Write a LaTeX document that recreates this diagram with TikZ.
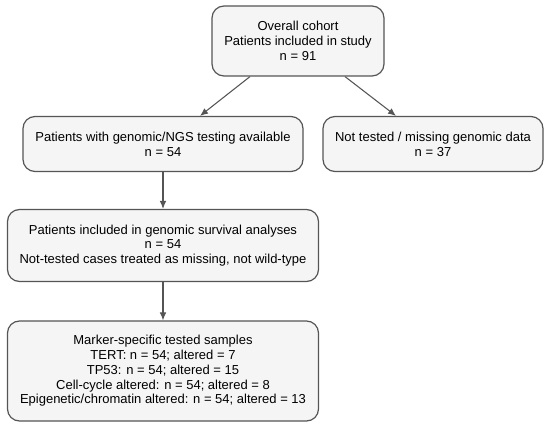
\documentclass[tikz,border=0pt]{standalone}
\usepackage{fontspec}
\setmainfont{Liberation Sans}
\usepackage{tikz}
\usetikzlibrary{arrows.meta}
\definecolor{boxfill}{HTML}{F5F5F5}
\definecolor{boxline}{HTML}{555555}

\begin{document}
\begin{tikzpicture}[x=0.75pt, y=-0.75pt,
		mybox/.style={draw=boxline, fill=boxfill, line width=0.9pt, rounded corners=9pt, align=center, inner sep=2pt, font=\fontsize{9.75}{11.1}\selectfont},
		arr/.style={-{Latex[length=6pt, width=5pt]}, draw=boxline, line width=0.8pt}
	]
	\useasboundingbox (0,0) rectangle (550,435);

	\node[mybox, minimum width=129pt, minimum height=52.5pt] (cohort) at (298,41) {Overall cohort\\ Patients included in study\\ n = 91};
	\node[mybox, minimum width=210pt, minimum height=41.25pt] (tested) at (163,144) {Patients with genomic/NGS testing available\\ n = 54};
	\node[mybox, minimum width=165pt, minimum height=41.25pt] (missing) at (433,144) {Not tested / missing genomic data\\ n = 37};
	\node[mybox, minimum width=233.25pt, minimum height=54pt] (survival) at (163,245.5) {Patients included in genomic survival analyses\\ n = 54\\ Not-tested cases treated as missing, not wild-type};
	\node[mybox, minimum width=233.25pt, minimum height=75pt] (marker) at (163,371) {Marker-specific tested samples\\ TERT: n = 54; altered = 7\\ TP53: n = 54; altered = 15\\ Cell-cycle altered: n = 54; altered = 8\\ Epigenetic/chromatin altered: n = 54; altered = 13};

	\draw[arr] ([xshift=-36pt]cohort.south) -- ([xshift=27.75pt]tested.north);
	\draw[arr] ([xshift=35.25pt]cohort.south) -- ([xshift=-27.75pt]missing.north);
	\draw[arr] (tested) -- (survival);
	\draw[arr] (survival) -- (marker);
\end{tikzpicture}
\end{document}
